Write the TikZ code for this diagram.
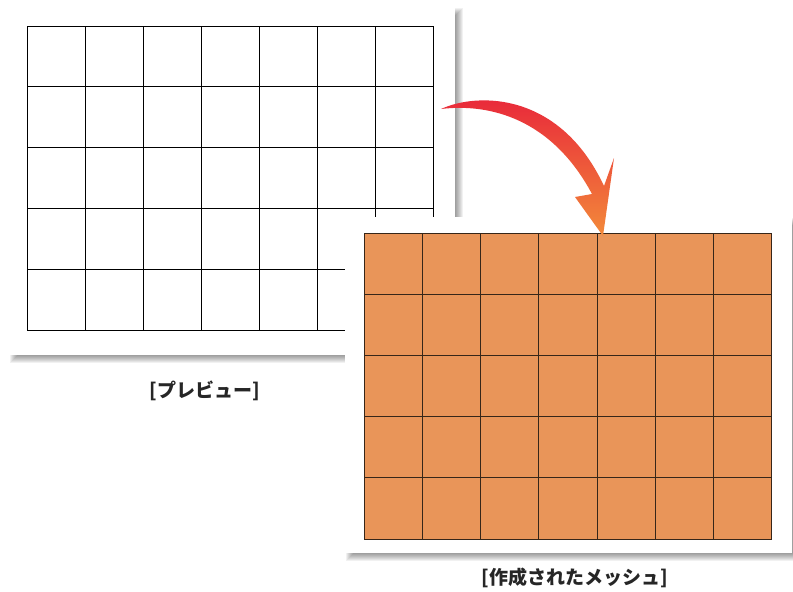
\documentclass[tikz,border=0pt]{standalone}
\usepackage{fontspec}
\newfontfamily\cjk{Noto Sans CJK JP}
\begin{document}
\begin{tikzpicture}[x=1pt,y=-1pt,
  gridline/.style={black,line width=0.9pt},
  meshgrid/.style={draw=meshline,line width=1pt},
  cardbox/.style={fill=white,draw=none},
  lbl/.style={font=\cjk\bfseries\fontsize{19}{19}\selectfont,text=black!85,inner sep=0pt}]
\definecolor{meshfill}{RGB}{233,149,89}
\definecolor{arrowred}{RGB}{232,37,58}
\definecolor{arroworange}{RGB}{243,138,58}
\definecolor{meshline}{RGB}{55,38,25}
\useasboundingbox[fill=white] (0,0) rectangle (793,592);

% ---------- preview card (left) ----------
\foreach \k in {-3,-2,-1,0,1,2,3,4}
  \fill[black,opacity=0.055] ({9+5-\k},{7+5-\k}) rectangle ({455+4+\k},{355+4+\k});
\fill[cardbox] (9,7) rectangle (455,355);
\coordinate (pv) at (232,181);
\foreach \i in {0,...,7}
  \draw[gridline] ({27+\i*58},26) -- ({27+\i*58},330);
\foreach \j in {0,...,5}
  \draw[gridline] (27,{26+\j*60.8}) -- (433,{26+\j*60.8});

% ---------- mesh card (right) ----------
\foreach \k in {-3,-2,-1,0,1,2,3,4}
  \fill[black,opacity=0.055] ({345+5-\k},{217+5-\k}) rectangle ({792+4+\k},{553+4+\k});
\fill[cardbox] (345,217) rectangle (792,553);
\fill[meshfill] (364.3,233.3) rectangle (771.7,539);
\foreach \i in {0,...,7}
  \draw[meshgrid] ({364.3+\i*58.2},233.3) -- ({364.3+\i*58.2},539);
\foreach \j in {0,...,5}
  \draw[meshgrid] (364.3,{233.3+\j*61.14}) -- (771.7,{233.3+\j*61.14});

% ---------- curved arrow ----------
\shade[top color=arrowred, bottom color=arroworange]
  (441,109) .. controls (478,92) and (560,92) .. (604,186)
  -- (614,158) -- (603,236) -- (575,197) -- (592,194)
  .. controls (552,119) and (490,103) .. (441,109) -- cycle;

% ---------- labels ----------
\node[lbl] (lprev) at (205,391) {[プレビュー]};
\node[lbl] (lmesh) at (575,578) {[作成されたメッシュ]};
\end{tikzpicture}
\end{document}
